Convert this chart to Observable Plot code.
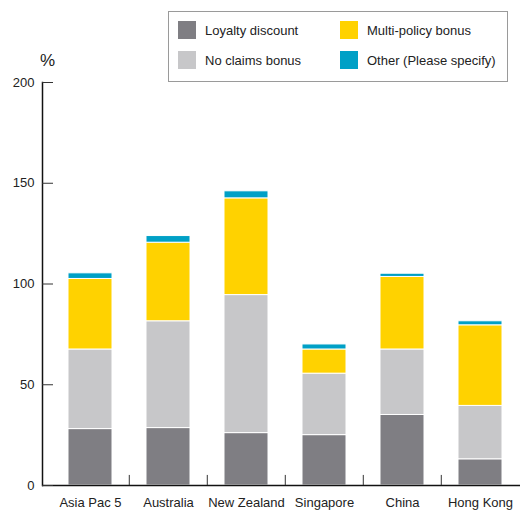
<!DOCTYPE html>
<html>
<head>
<meta charset="utf-8">
<script src="https://cdn.jsdelivr.net/npm/d3@7"></script>
<script src="https://cdn.jsdelivr.net/npm/@observablehq/plot@0.6"></script>
<style>
  html, body { margin: 0; padding: 0; background: #fff; }
  #wrap { position: relative; width: 522px; height: 510px; font-family: "Liberation Sans", Arial, sans-serif; color: #222; }
  #legend { position: absolute; left: 168px; top: 11px; width: 340px; height: 71px; border: 1px solid #9a9a9a; background: #fff; box-sizing: border-box; font-size: 13px; }
  .item { position: absolute; display: flex; align-items: center; height: 18px; }
  .sw { width: 18px; height: 18px; margin-right: 9px; }
  #pct { position: absolute; left: 40px; top: 51px; font-size: 17px; }
</style>
</head>
<body>
<div id="wrap">
  <div id="chart"></div>
  <div id="pct">%</div>
  <div id="legend"></div>
</div>
<script>
const countries = ["Asia Pac 5", "Australia", "New Zealand", "Singapore", "China", "Hong Kong"];
const seriesNames = ["Loyalty discount", "No claims bonus", "Multi-policy bonus", "Other (Please specify)"];
const seriesColors = ["#7f7e83", "#c7c7c9", "#ffd200", "#00a0c6"];
const loyalty = [28, 28.5, 26, 25, 35, 13];
const noClaims = [39.5, 53, 68.5, 30.5, 32.5, 26.5];
const multiPolicy = [35, 39, 48, 12, 36, 40];
const other = [2.8, 3.3, 3.5, 2.5, 1.6, 2];
const yTicks = [0, 50, 100, 150, 200];

const seriesValues = [loyalty, noClaims, multiPolicy, other];
const data = seriesValues.flatMap((vals, s) =>
  countries.map((c, i) => ({country: c, series: seriesNames[s], value: vals[i]})));

const xRange = [67, 503];
const padInner = 0.44;
const step = (xRange[1] - xRange[0]) / (countries.length - padInner);

const chart = Plot.plot({
  width: 522,
  height: 510,
  marginTop: 82,
  marginBottom: 25,
  marginLeft: 42,
  marginRight: 2,
  style: {fontFamily: "Liberation Sans, Arial, sans-serif", fontSize: "13px", color: "#222", background: "#fff"},
  x: {domain: countries, range: xRange, paddingInner: padInner, paddingOuter: 0, label: null},
  y: {domain: [0, 200], label: null},
  color: {domain: seriesNames, range: seriesColors},
  marks: [
    Plot.barY(data, {x: "country", y: "value", fill: "series", stroke: "white", strokeWidth: 1}),
    Plot.frame({anchor: "left", stroke: "#111", strokeWidth: 1.5}),
    Plot.ruleY([0], {stroke: "#111", strokeWidth: 1.5}),
    Plot.ruleX(countries.slice(1), {x: d => d, y1: 0, y2: 5, dx: -step / 2, stroke: "#333"}),
    Plot.axisY({ticks: yTicks, tickSize: -11, tickPadding: 19, label: null, stroke: "#333"}),
    Plot.axisX({tickSize: 0, tickPadding: 12, label: null})
  ]
});
document.getElementById("chart").appendChild(chart);

const legend = document.getElementById("legend");
const pos = [[9, 9], [9, 39], [171, 9], [171, 39]];
seriesNames.forEach((name, k) => {
  const it = document.createElement("div");
  it.className = "item";
  it.style.left = pos[k][0] + "px";
  it.style.top = pos[k][1] + "px";
  const sw = document.createElement("div");
  sw.className = "sw";
  sw.style.background = seriesColors[k];
  const t = document.createElement("span");
  t.textContent = name;
  it.appendChild(sw); it.appendChild(t);
  legend.appendChild(it);
});
</script>
</body>
</html>
